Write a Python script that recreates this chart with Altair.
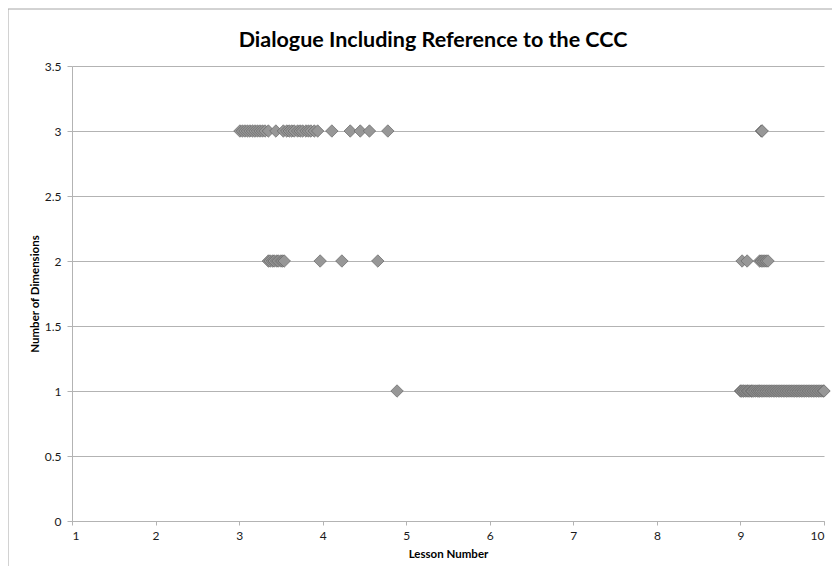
import altair as alt
import pandas as pd

TITLE = "Dialogue Including Reference to the CCC"

# Lesson number values for each dimension count
lesson_dim3 = [3.01, 3.04, 3.07, 3.10, 3.13, 3.16, 3.19, 3.22, 3.25, 3.28, 3.31, 3.35,
               3.44,
               3.53, 3.57, 3.60, 3.63, 3.66, 3.70, 3.73, 3.76, 3.80, 3.83, 3.86, 3.90, 3.94,
               4.11, 4.33, 4.45, 4.56, 4.78,
               9.25, 9.26]
lesson_dim2 = [3.35, 3.37, 3.40, 3.42, 3.45, 3.47, 3.50, 3.52, 3.54,
               3.97, 4.23, 4.66,
               9.02, 9.08,
               9.23, 9.25, 9.27, 9.29, 9.31, 9.33]
lesson_dim1 = [4.89,
               9.00, 9.01, 9.03, 9.04, 9.06, 9.08, 9.09, 9.11, 9.13, 9.14, 9.16, 9.18,
               9.20, 9.22, 9.23, 9.25, 9.27, 9.29, 9.31, 9.33, 9.35, 9.37, 9.39, 9.41,
               9.43, 9.45, 9.47, 9.49, 9.51, 9.53, 9.55, 9.57, 9.59, 9.61, 9.63, 9.65,
               9.67, 9.69, 9.71, 9.73, 9.75, 9.77, 9.79, 9.81, 9.83, 9.85, 9.87, 9.89,
               9.91, 9.93, 9.95, 9.97, 9.99, 10.00]

x_ticks = [1, 2, 3, 4, 5, 6, 7, 8, 9, 10]
y_ticks = [0, 0.5, 1, 1.5, 2, 2.5, 3, 3.5]

rows = ([{"lesson": v, "dims": 3} for v in lesson_dim3]
        + [{"lesson": v, "dims": 2} for v in lesson_dim2]
        + [{"lesson": v, "dims": 1} for v in lesson_dim1])
df = pd.DataFrame(rows)

FONT = "Lato"

points = alt.Chart(df).mark_point(
    shape="diamond", filled=True, size=155,
    fill="#979797", stroke="#666666", strokeWidth=0.7, opacity=1
).encode(
    x=alt.X("lesson:Q",
            scale=alt.Scale(domain=[1, 10], nice=False, zero=False),
            axis=alt.Axis(values=x_ticks, title="Lesson Number", grid=False,
                          format="d", tickSize=4, labelPadding=5,
                          titlePadding=7)),
    y=alt.Y("dims:Q",
            scale=alt.Scale(domain=[0, 3.5], nice=False),
            axis=alt.Axis(values=y_ticks, title="Number of Dimensions",
                          grid=True, format=".1~f", tickSize=5,
                          labelPadding=6, titlePadding=4)),
)

frame = alt.Chart(pd.DataFrame({"k": [0]})).mark_rect(
    fill=None, stroke="#a6a6a6", strokeWidth=1
).encode(
    x=alt.value(-64), x2=alt.value(900),
    y=alt.value(-57), y2=alt.value(700)
)

title = alt.Chart(pd.DataFrame({"t": [TITLE]})).mark_text(
    font=FONT, fontSize=21.5, fontWeight="bold", color="#000000",
    align="center", baseline="alphabetic"
).encode(
    text="t:N", x=alt.value(361), y=alt.value(-19)
)

chart = alt.layer(frame, points, title).properties(
    width=752, height=455,
    autosize=alt.AutoSizeParams(type="none"),
    padding={"left": 64, "top": 58, "right": 8, "bottom": 45},
).configure_view(
    stroke=None
).configure_axis(
    domainColor="#b3b3b3", tickColor="#b3b3b3", gridColor="#b3b3b3",
    gridWidth=1, domainWidth=1,
    labelFont=FONT, labelFontSize=12, labelColor="#1a1a1a",
    titleFont=FONT, titleFontSize=11.5, titleFontWeight="bold",
    titleColor="#000000",
).configure_axisY(
    domain=True
)

chart.save("out.html", embed_options={"renderer": "svg", "actions": False})
